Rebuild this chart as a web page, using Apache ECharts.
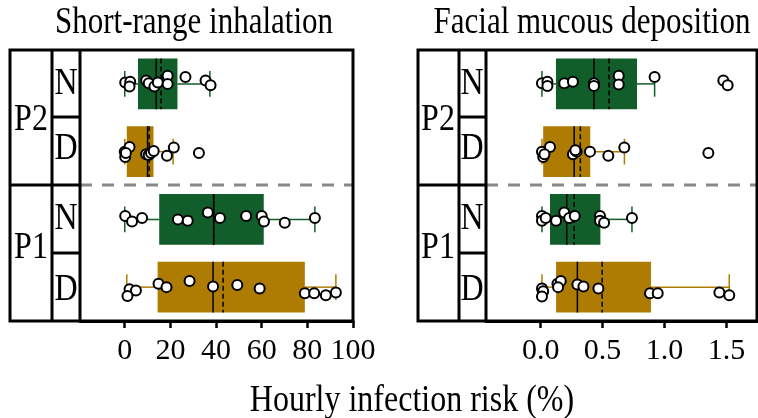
<!DOCTYPE html>
<html>
<head>
<meta charset="utf-8">
<script src="https://cdn.jsdelivr.net/npm/echarts@6/dist/echarts.min.js"></script>
<style>
html, body { margin: 0; padding: 0; background: #fff; }
#chart { width: 758px; height: 418px; }
</style>
</head>
<body>
<div id="chart"></div>
<script>
// rows from bottom to top
var rowNames = ['P1 D', 'P1 N', 'P2 D', 'P2 N'];
var rowPos = [0.5, 1.5, 2.5, 3.5];
var inhTicks = [0, 20, 40, 60, 80, 100];
var mucTicks = [0, 0.5, 1.0, 1.5];

// box stats: [lower whisker, Q1, median, Q3, upper whisker, mean]
var inhBoxP1D = [0.9, 14.4, 38.7, 78.9, 92.5, 43.1];
var inhBoxP1N = [0, 15.1, 39.0, 60.9, 83.3, 38.9];
var inhBoxP2D = [0, 0.9, 10.0, 12.6, 21.2, 10.7];
var inhBoxP2N = [0, 5.8, 13.8, 23.1, 37.3, 15.9];
var mucBoxP1D = [0.01, 0.124, 0.296, 0.891, 1.523, 0.496];
var mucBoxP1N = [0.01, 0.075, 0.21, 0.482, 0.737, 0.27];
var mucBoxP2D = [0.01, 0.02, 0.27, 0.40, 0.676, 0.32];
var mucBoxP2N = [0.01, 0.123, 0.43, 0.778, 0.92, 0.552];

// individual observations: [risk, vertical jitter (row fraction, + = down)]
var inhP1D = [[2.1,0.03],[4.9,0.05],[1.2,0.13],[14.8,-0.05],[18.3,0],[28.4,-0.09],[38.7,-0.01],[49.3,-0.03],[59.1,0.02],[78.9,0.09],[83.0,0.09],[88.1,0.12],[92.5,0.08]];
var inhP1N = [[0.2,-0.05],[3.2,0.03],[7.6,-0.02],[23.3,0],[27.6,0.02],[36.4,-0.10],[41.7,-0.02],[53.2,-0.05],[60.0,-0.05],[61.0,0.03],[70.1,0.05],[83.3,-0.02]];
var inhP2D = [[0,0],[2.1,-0.07],[0.2,0.08],[0.5,0.02],[9.4,0.04],[10.5,0.05],[11.5,0.02],[12.7,-0.01],[18.5,0.06],[21.5,-0.06],[32.5,0.02]];
var inhP2N = [[0.2,-0.02],[2.4,-0.03],[2.1,0.04],[9.4,-0.05],[10.5,-0.01],[13.0,0.04],[14.5,-0.02],[18.8,-0.12],[18.8,0.0],[26.6,-0.10],[35.4,-0.05],[37.6,0.02]];
var mucP1D = [[0.01,0.02],[0.02,0.06],[0.01,0.14],[0.135,-0.05],[0.162,-0.09],[0.14,0],[0.296,-0.04],[0.345,-0.01],[0.466,0.02],[0.883,0.09],[0.945,0.09],[1.443,0.08],[1.523,0.12]];
var mucP1N = [[0.01,-0.05],[0.01,0.02],[0.04,-0.02],[0.124,0.02],[0.19,-0.10],[0.23,-0.02],[0.275,-0.05],[0.479,-0.05],[0.479,0.02],[0.512,0.05],[0.737,-0.02]];
var mucP2D = [[0.01,0],[0.02,0.08],[0.075,-0.07],[0.03,0.04],[0.26,0.04],[0.29,0],[0.28,-0.02],[0.398,0],[0.546,0.06],[0.675,-0.06],[1.354,0.02]];
var mucP2N = [[0.01,-0.01],[0.054,-0.03],[0.054,0.03],[0.19,-0.01],[0.26,-0.03],[0.43,-0.01],[0.43,0.03],[0.63,-0.12],[0.63,0.01],[0.92,-0.10],[1.475,-0.05],[1.51,0.02]];

var GREEN = '#125E2A', GOLD = '#AE7C02';
var rowColors = [GOLD, GREEN, GOLD, GREEN];
var FONT = 'Liberation Serif';

function boxData(boxes) {
    return boxes.map(function (b, i) {
        return { value: [rowPos[i]].concat(b), itemStyle: { color: rowColors[i] } };
    });
}
function pointData(groups) {
    var out = [];
    groups.forEach(function (g, i) {
        g.forEach(function (p) { out.push([p[0], rowPos[i] - p[1]]); });
    });
    return out;
}

function renderBox(params, api) {
    var row = api.value(0);
    var lo = api.coord([api.value(1), row]);
    var q1 = api.coord([api.value(2), row]);
    var md = api.coord([api.value(3), row]);
    var q3 = api.coord([api.value(4), row]);
    var hi = api.coord([api.value(5), row]);
    var mn = api.coord([api.value(6), row]);
    var rowH = api.size([0, 1])[1];
    var bh = rowH * 0.375, ch = rowH * 0.19;
    var c = api.visual('color');
    var y = lo[1];
    var ln = function (x1, y1, x2, y2, style) {
        return { type: 'line', shape: { x1: x1, y1: y1, x2: x2, y2: y2 }, style: style };
    };
    var wStyle = { stroke: c, lineWidth: 1.5 };
    return {
        type: 'group',
        children: [
            ln(lo[0], y, q1[0], y, wStyle),
            ln(q3[0], y, hi[0], y, wStyle),
            ln(lo[0], y - ch, lo[0], y + ch, wStyle),
            ln(hi[0], y - ch, hi[0], y + ch, wStyle),
            { type: 'rect', shape: { x: q1[0], y: y - bh, width: q3[0] - q1[0], height: 2 * bh }, style: { fill: c } },
            ln(md[0], y - bh, md[0], y + bh, { stroke: '#000', lineWidth: 1.5 }),
            ln(mn[0], y - bh, mn[0], y + bh, { stroke: '#000', lineWidth: 1.5, lineDash: [5, 3] })
        ]
    };
}

function txt(s, x, y, size, sy) {
    return {
        type: 'text', x: x, y: y, scaleY: sy, z: 20,
        style: { text: s, x: 0, y: 0, align: 'center', verticalAlign: 'middle',
                 font: size + 'px "' + FONT + '"', fill: '#000' }
    };
}
function seg(x1, y1, x2, y2) {
    return { type: 'line', z: 20, shape: { x1: x1, y1: y1, x2: x2, y2: y2 },
             style: { stroke: '#000', lineWidth: 3 } };
}
function panelFrame(L, c1, c2, R) {
    var T = 50, B = 321, M = 185;
    return [
        { type: 'rect', z: 20, shape: { x: L, y: T, width: R - L, height: B - T },
          style: { fill: 'none', stroke: '#000', lineWidth: 3 } },
        seg(c1, T, c1, B), seg(c2, T, c2, B),
        seg(L, M, c2, M), seg(c1, 117, c2, 117), seg(c1, 253, c2, 253),
        { type: 'line', z: 5, shape: { x1: c2, y1: M, x2: R, y2: M },
          style: { stroke: '#888', lineWidth: 3, lineDash: [12, 10] } }
    ];
}
function rowLabels(xp, xr) {
    var s = 32, k = 1.2;
    return [
        txt('P2', xp, 120, s, k), txt('P1', xp, 248, s, k),
        txt('N', xr, 84, s, k), txt('D', xr, 149, s, k),
        txt('N', xr, 219, s, k), txt('D', xr, 290, s, k)
    ];
}

function xAxisCfg(idx, min, max, ticks, fmt) {
    return {
        type: 'value', gridIndex: idx, min: min, max: max,
        splitLine: { show: false },
        axisLine: { show: true, onZero: false, lineStyle: { color: '#000', width: 3 } },
        axisTick: { show: true, customValues: ticks, length: 7, lineStyle: { color: '#000', width: 2.5 } },
        axisLabel: { customValues: ticks, formatter: fmt, color: '#000', fontFamily: FONT, fontSize: 30, margin: 15 }
    };
}
function yAxisCfg(idx) {
    return { type: 'value', gridIndex: idx, min: 0, max: 4, show: false };
}

var chart = echarts.init(document.getElementById('chart'));
var option = {
    animation: false,
    backgroundColor: '#fff',
    grid: [
        { left: 80, right: 405, top: 50, bottom: 97 },
        { left: 486, right: 1, top: 50, bottom: 97 }
    ],
    xAxis: [
        xAxisCfg(0, -19.6, 100, inhTicks, function (v) { return String(v); }),
        xAxisCfg(1, -0.442, 1.747, mucTicks, function (v) { return v.toFixed(1); })
    ],
    yAxis: [yAxisCfg(0), yAxisCfg(1)],
    series: [
        { type: 'custom', xAxisIndex: 0, yAxisIndex: 0, renderItem: renderBox,
          encode: { x: [1, 2, 3, 4, 5, 6], y: 0 },
          data: boxData([inhBoxP1D, inhBoxP1N, inhBoxP2D, inhBoxP2N]) },
        { type: 'custom', xAxisIndex: 1, yAxisIndex: 1, renderItem: renderBox,
          encode: { x: [1, 2, 3, 4, 5, 6], y: 0 },
          data: boxData([mucBoxP1D, mucBoxP1N, mucBoxP2D, mucBoxP2N]) },
        { type: 'scatter', xAxisIndex: 0, yAxisIndex: 0, z: 10, symbolSize: 10,
          itemStyle: { color: '#fff', borderColor: '#000', borderWidth: 2, opacity: 1 },
          data: pointData([inhP1D, inhP1N, inhP2D, inhP2N]) },
        { type: 'scatter', xAxisIndex: 1, yAxisIndex: 1, z: 10, symbolSize: 10,
          itemStyle: { color: '#fff', borderColor: '#000', borderWidth: 2, opacity: 1 },
          data: pointData([mucP1D, mucP1N, mucP2D, mucP2N]) }
    ],
    graphic: [].concat(
        panelFrame(10, 52, 80, 353),
        panelFrame(418, 459, 486, 757),
        rowLabels(31, 66),
        rowLabels(438, 472),
        [
            txt('Short-range inhalation', 194, 23, 31, 1.2),
            txt('Facial mucous deposition', 592, 23, 31, 1.2),
            txt('Hourly infection risk (%)', 412, 401, 32, 1.2)
        ]
    )
};
chart.setOption(option);
</script>
</body>
</html>
